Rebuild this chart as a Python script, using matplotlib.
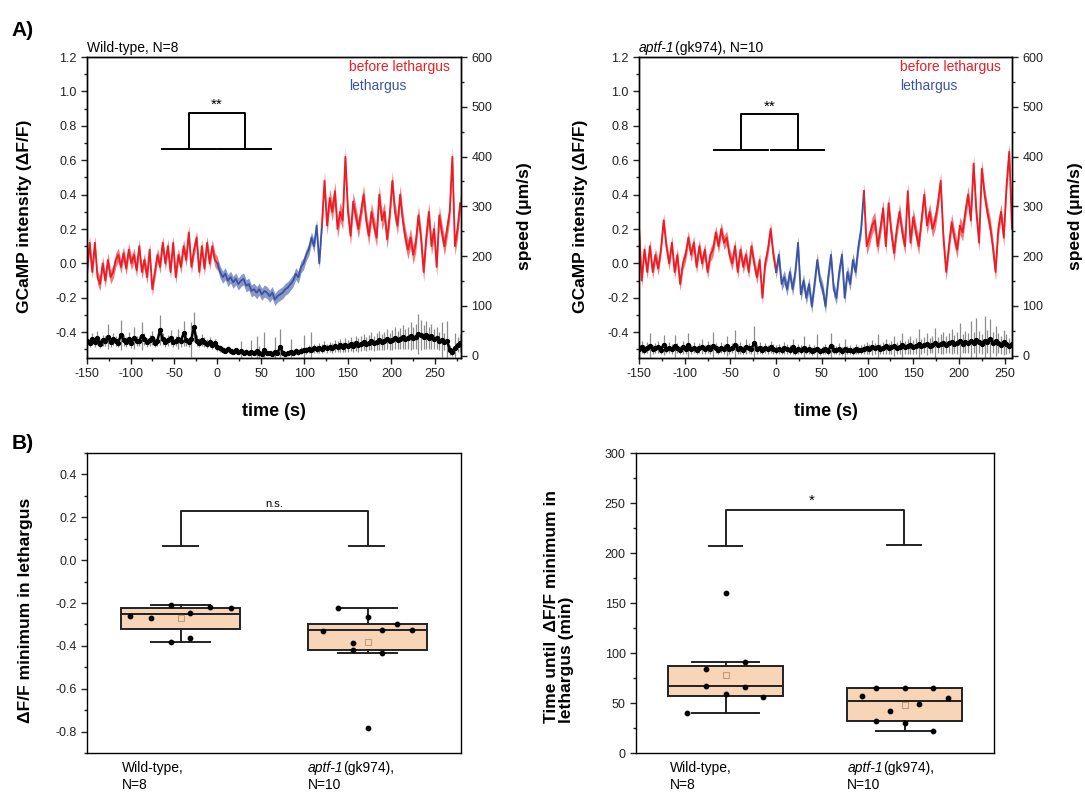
import numpy as np
import matplotlib.pyplot as plt
from matplotlib.ticker import MultipleLocator

plt.rcParams['font.family'] = ['Liberation Sans', 'DejaVu Sans']
plt.rcParams['axes.unicode_minus'] = False

# ---- A) GCaMP traces, sampled every 3 s ----
wt_time = np.arange(-150, 280, 3)
wt_before = [-0.05, 0.12, -0.05, 0.12, -0.08, -0.12, 0.0, -0.1, 0.02, -0.08,
             -0.05, 0.02, 0.05, -0.02, 0.06, -0.03, 0.08, 0.0, 0.05, -0.04,
             0.1, -0.05, 0.02, -0.08, 0.08, -0.15, -0.05, 0.05, -0.02, 0.12,
             0.0, 0.1, -0.05, 0.12, -0.08, 0.05, -0.02, 0.1, 0.02, 0.18,
             -0.02, 0.08, 0.15, -0.05, 0.1, -0.03, 0.12, 0.0, 0.1, 0.02,
             0.0]
wt_lethargus = [-0.05, -0.08, -0.06, -0.1, -0.08, -0.11, -0.09, -0.12, -0.1, -0.09,
                -0.13, -0.12, -0.16, -0.15, -0.17, -0.15, -0.18, -0.16, -0.17, -0.19,
                -0.17, -0.21, -0.19, -0.18, -0.17, -0.15, -0.14, -0.12, -0.1, -0.06,
                -0.08, -0.02, 0.0, 0.05, 0.08, 0.15, 0.1, 0.22, 0.0]
wt_after = [0.22, 0.48, 0.22, 0.38, 0.3, 0.42, 0.2, 0.3, 0.25, 0.62,
            0.3, 0.16, 0.36, 0.28, 0.2, 0.3, 0.4, 0.25, 0.16, 0.3,
            0.22, 0.15, 0.4, 0.25, 0.3, 0.14, 0.28, 0.48, 0.3, 0.22,
            0.4, 0.25, 0.15, 0.08, 0.15, 0.05, 0.12, 0.28, 0.15, -0.05,
            0.15, 0.3, 0.1, 0.2, -0.02, 0.28, 0.18, 0.1, 0.2, 0.3,
            0.62, 0.1, 0.2, 0.35]
wt_leth_end = 120
wt_sem = [0.04, 0.035, 0.055]   # before, lethargus, after

mut_time = np.arange(-150, 259, 3)
mut_before = [0.22, -0.1, 0.08, -0.05, 0.1, -0.05, 0.05, -0.03, 0.08, 0.25,
              0.1, 0.0, 0.12, -0.05, 0.05, -0.12, 0.0, 0.05, 0.15, 0.05,
              0.12, -0.02, 0.1, 0.0, 0.08, -0.05, 0.05, 0.08, 0.18, 0.1,
              0.2, 0.12, 0.15, 0.05, 0.0, 0.1, -0.05, 0.08, -0.02, 0.05,
              -0.05, 0.1, 0.0, -0.08, 0.02, -0.2, 0.0, 0.08, 0.2, 0.05,
              -0.05]
mut_lethargus = [0.05, -0.12, -0.08, -0.15, -0.05, -0.15, -0.05, 0.12, -0.18, -0.1,
                 -0.2, -0.12, -0.25, -0.12, 0.02, -0.1, -0.15, -0.25, -0.08, 0.05,
                 -0.15, -0.2, -0.05, 0.05, -0.2, -0.05, -0.12, 0.02, -0.05, 0.1,
                 0.2]
mut_after = [0.42, 0.1, 0.15, 0.22, 0.25, 0.1, 0.2, 0.32, 0.1, 0.35,
             0.18, 0.06, 0.2, 0.3, 0.18, 0.1, 0.42, 0.12, 0.27, 0.18,
             0.1, 0.25, 0.4, 0.22, 0.3, 0.2, 0.25, 0.35, 0.48, 0.15,
             -0.05, 0.1, 0.24, 0.15, 0.08, 0.22, 0.18, 0.3, 0.4, 0.25,
             0.58, 0.3, 0.12, 0.55, 0.4, 0.3, 0.22, 0.1, -0.05, 0.2,
             0.3, 0.15, 0.45, 0.65, 0.2]
mut_leth_end = 96
mut_sem = [0.04, 0.04, 0.05]

# speed (um/s) and its error, same sampling
wt_speed = [30, 26, 33, 28, 35, 24, 31, 29, 38, 27,
            33, 30, 26, 42, 31, 28, 34, 25, 36, 30,
            29, 40, 33, 27, 31, 35, 26, 30, 52, 33,
            28, 31, 36, 27, 30, 34, 29, 45, 32, 27,
            33, 58, 30, 26, 31, 28, 24, 27, 22, 25,
            18,
            15, 12, 10, 13, 9, 8, 11, 7, 9, 6,
            8, 5, 7, 6, 9, 5, 4, 12, 6, 5,
            4, 7, 5, 18, 6, 4, 5, 8, 6, 9,
            7, 10, 12,
            11, 14, 12, 15, 13, 16, 14, 18, 15, 17,
            16, 19, 18, 21, 17, 22, 20, 23, 19, 25,
            22, 24, 27, 23, 26, 29, 25, 28, 31, 27,
            30, 33, 29, 32, 35, 31, 34, 38, 33, 36,
            40, 35, 38, 44, 42, 37, 41, 36, 39, 33,
            35, 30, 32, 28, 30, 12, 8, 15, 22, 26]
wt_speed_err = [10, 9, 12, 10, 14, 9, 11, 10, 25, 9,
                12, 10, 9, 30, 11, 10, 13, 9, 22, 10,
                10, 28, 12, 9, 11, 14, 9, 10, 30, 12,
                10, 11, 15, 9, 10, 20, 11, 25, 12, 9,
                35, 30, 11, 9, 12, 10, 9, 10, 8, 9,
                8,
                7, 6, 5, 6, 5, 4, 5, 4, 20, 4,
                5, 4, 25, 4, 30, 15, 3, 35, 4, 3,
                3, 30, 4, 35, 5, 3, 4, 25, 4, 6,
                5, 7, 30,
                7, 8, 35, 9, 8, 10, 9, 11, 9, 10,
                10, 12, 11, 13, 10, 14, 12, 14, 11, 15,
                14, 15, 16, 14, 15, 18, 15, 17, 19, 16,
                18, 20, 17, 20, 22, 18, 21, 24, 20, 22,
                28, 22, 25, 40, 30, 24, 28, 22, 25, 20,
                22, 18, 35, 17, 40, 10, 8, 30, 15, 18]
mut_speed = [14, 18, 12, 16, 20, 13, 15, 17, 12, 22,
             14, 16, 13, 19, 15, 12, 17, 14, 21, 13,
             16, 12, 15, 18, 13, 17, 14, 20, 15, 12,
             16, 14, 19, 13, 15, 22, 14, 16, 12, 18,
             15, 13, 25, 14, 16, 12, 15, 13, 17, 14,
             12,
             14, 11, 16, 13, 12, 18, 10, 14, 12, 15,
             11, 13, 10, 12, 14, 9, 11, 13, 10, 20,
             12, 11, 14, 10, 13, 11, 12, 10, 13, 11, 12,
             14, 16, 13, 17, 15, 18, 14, 16, 19, 15,
             17, 20, 16, 18, 21, 17, 19, 22, 18, 20,
             23, 19, 21, 24, 20, 22, 25, 21, 24, 26,
             22, 25, 28, 23, 26, 30, 24, 27, 25, 29,
             26, 31, 27, 24, 30, 28, 33, 26, 29, 25,
             22, 27, 24, 20, 23]
mut_speed_err = [10, 12, 9, 11, 25, 9, 10, 12, 8, 20,
                 9, 11, 10, 22, 10, 8, 13, 10, 25, 9,
                 11, 8, 10, 15, 9, 12, 10, 28, 10, 8,
                 11, 10, 20, 9, 10, 30, 10, 12, 8, 15,
                 10, 9, 35, 10, 11, 8, 10, 9, 12, 10,
                 9,
                 10, 8, 12, 10, 9, 15, 8, 10, 9, 25,
                 8, 10, 8, 9, 30, 7, 8, 10, 8, 25,
                 9, 8, 12, 8, 20, 8, 9, 8, 10, 8, 9,
                 10, 12, 10, 15, 11, 25, 10, 12, 15, 11,
                 13, 20, 12, 14, 25, 13, 15, 18, 14, 16,
                 30, 15, 16, 22, 15, 17, 30, 16, 20, 22,
                 17, 20, 25, 18, 22, 35, 19, 22, 20, 40,
                 21, 45, 22, 20, 50, 23, 40, 21, 30, 20,
                 18, 25, 20, 15, 30]

# ---- B) per-worm values ----
wt_min = [-0.26, -0.27, -0.21, -0.245, -0.22, -0.225, -0.365, -0.38]
wt_min_jitter = [-0.27, -0.16, -0.053, 0.053, 0.16, 0.27, 0.053, -0.053]
mut_min = [-0.225, -0.265, -0.30, -0.325, -0.325, -0.33, -0.385, -0.42, -0.435, -0.785]
mut_min_jitter = [-0.16, 0.0, 0.16, 0.24, 0.08, -0.24, -0.08, -0.08, 0.08, 0.0]
# box stats: whislo, q1, med, q3, whishi, mean
min_stats = [[-0.382, -0.32, -0.25, -0.222, -0.21, -0.27],
             [-0.435, -0.42, -0.325, -0.30, -0.225, -0.38]]

wt_tmin = [84, 67.5, 59, 66, 91, 56, 40, 160]
wt_tmin_jitter = [-0.11, -0.11, 0.0, 0.106, 0.106, 0.212, -0.216, 0.0]
mut_tmin = [57, 65, 65, 65, 55, 42, 49, 32, 30, 22]
mut_tmin_jitter = [-0.24, -0.16, 0.0, 0.16, 0.24, -0.082, 0.08, -0.16, 0.0, 0.16]
tmin_stats = [[40, 57, 67, 87, 91, 78],
              [22, 32, 52, 65, 65, 48]]

RED = '#ec1c24'
BLUE = '#3a53a4'
BOX = '#f9d5b7'
INK = '#222222'

fig = plt.figure(figsize=(10.85, 7.94), dpi=100)


def style_axes(ax, ymaj, ymin):
    ax.yaxis.set_major_locator(MultipleLocator(ymaj))
    ax.yaxis.set_minor_locator(MultipleLocator(ymin))
    ax.tick_params(which='both', direction='out', labelsize=9, colors=INK, width=1)
    ax.tick_params(which='major', length=4)
    ax.tick_params(which='minor', length=2.5)
    for s in ax.spines.values():
        s.set_linewidth(1)


def draw_trace(ax, t, v, t_end, sem, speed, speed_err, xmax):
    v = np.array(v)
    masks = [t <= 0, (t >= 0) & (t <= t_end), t >= t_end]
    colors = [RED, BLUE, RED]
    for m, c, s in zip(masks, colors, sem):
        ax.fill_between(t[m], v[m] - s, v[m] + s, color=c, alpha=0.6, lw=0)
        ax.plot(t[m], v[m], color=c, lw=1.3)
    ax.set_xlim(-150, xmax)
    ax.set_ylim(-0.55, 1.2)
    ax.xaxis.set_major_locator(MultipleLocator(50))
    ax.xaxis.set_minor_locator(MultipleLocator(25))
    style_axes(ax, 0.2, 0.1)
    ax.tick_params(top=False, right=False, which='both')
    ax.yaxis.set_major_formatter(plt.FuncFormatter(lambda y, p: f'{y:.1f}'))
    ax.set_ylabel('GCaMP intensity (\u0394F/F)', fontsize=12.5, fontweight='bold')
    ax.set_xlabel('time (s)', fontsize=13, fontweight='bold')
    ax.xaxis.set_label_coords(0.5, -0.15)

    ax2 = ax.twinx()
    ax2.errorbar(t, speed, yerr=speed_err, fmt='o-', ms=2.8, lw=1.8, color='black',
                 ecolor='#8c8c8c', elinewidth=0.9, capsize=0)
    ax2.set_ylim(-5, 600)
    style_axes(ax2, 100, 50)
    ax2.set_ylabel('speed (\u03bcm/s)', fontsize=12.5, fontweight='bold')

    ax.text(0.7, 0.955, 'before lethargus', color=RED, fontsize=10, transform=ax.transAxes)
    ax.text(0.7, 0.89, 'lethargus', color=BLUE, fontsize=10, transform=ax.transAxes)
    return ax2


# ---------- A) wild type ----------
axA1 = fig.add_axes([0.0802, 0.5491, 0.3447, 0.3791])
ax2 = draw_trace(axA1, wt_time, wt_before + wt_lethargus + wt_after, wt_leth_end, wt_sem,
                 wt_speed, wt_speed_err, 280)
axA1.yaxis.set_label_coords(-0.147, 0.47)
ax2.yaxis.set_label_coords(1.15, 0.47)
axA1.text(0.0, 1.015, 'Wild-type, N=8', fontsize=10, transform=axA1.transAxes)
axA1.plot([-64, -2], [0.667, 0.667], color='black', lw=1.4)
axA1.plot([1, 62], [0.667, 0.667], color='black', lw=1.4)
axA1.plot([-33, -33, 32, 32], [0.667, 0.875, 0.875, 0.667], color='black', lw=1.4)
axA1.text(-1, 0.88, '**', ha='center', va='bottom', fontsize=11)

# ---------- A) aptf-1 ----------
axA2 = fig.add_axes([0.5889, 0.5491, 0.3438, 0.3791])
ax2b = draw_trace(axA2, mut_time, mut_before + mut_lethargus + mut_after, mut_leth_end, mut_sem,
                  mut_speed, mut_speed_err, 258)
axA2.yaxis.set_label_coords(-0.137, 0.47)
ax2b.yaxis.set_label_coords(1.15, 0.47)
t1 = axA2.text(0.0, 1.015, 'aptf-1', fontsize=10, style='italic', transform=axA2.transAxes)
axA2.annotate('(gk974), N=10', xy=(1, 0), xycoords=t1, fontsize=10, va='bottom')
axA2.plot([-68, -9], [0.66, 0.66], color='black', lw=1.4)
axA2.plot([-6, 52], [0.66, 0.66], color='black', lw=1.4)
axA2.plot([-38, -38, 24, 24], [0.66, 0.867, 0.867, 0.66], color='black', lw=1.4)
axA2.text(-7, 0.872, '**', ha='center', va='bottom', fontsize=11)


def draw_box(ax, stats, groups, jitters, capw):
    bxp = []
    for s in stats:
        bxp.append(dict(whislo=s[0], q1=s[1], med=s[2], q3=s[3], whishi=s[4], mean=s[5],
                        fliers=[]))
    ax.bxp(bxp, positions=[1, 2], widths=0.64, capwidths=capw, showmeans=True,
           patch_artist=True,
           boxprops=dict(facecolor=BOX, edgecolor=INK, lw=1.4),
           medianprops=dict(color=INK, lw=1.4),
           whiskerprops=dict(color=INK, lw=1.4),
           capprops=dict(color=INK, lw=1.4),
           meanprops=dict(marker='s', markersize=4, markerfacecolor='none',
                          markeredgecolor='#c49a78', markeredgewidth=0.8))
    for i, (vals, jit) in enumerate(zip(groups, jitters)):
        ax.scatter(np.array(jit) + i + 1, vals, s=10, color='black', zorder=5)
    ax.set_xlim(0.5, 2.5)
    ax.set_xticks([])


def cat_labels(ax):
    ax.text(0.094, -0.025, 'Wild-type,', transform=ax.transAxes, fontsize=10, va='top')
    ax.text(0.094, -0.083, 'N=8', transform=ax.transAxes, fontsize=10, va='top')
    t = ax.text(0.59, -0.025, 'aptf-1', transform=ax.transAxes, fontsize=10,
                va='top', style='italic')
    ax.annotate('(gk974),', xy=(1, 1), xycoords=t, fontsize=10, va='top')
    ax.text(0.59, -0.083, 'N=10', transform=ax.transAxes, fontsize=10, va='top')


# ---------- B) minimum dF/F ----------
axB1 = fig.add_axes([0.0802, 0.0516, 0.3447, 0.3778])
draw_box(axB1, min_stats, [wt_min, mut_min], [wt_min_jitter, mut_min_jitter], [0.32, 0.32])
axB1.set_ylim(-0.9, 0.5)
style_axes(axB1, 0.2, 0.1)
axB1.yaxis.set_major_formatter(plt.FuncFormatter(lambda y, p: f'{y:.1f}'))
axB1.set_ylabel('\u0394F/F minimum in lethargus', fontsize=12.5, fontweight='bold')
axB1.yaxis.set_label_coords(-0.145, 0.477)
axB1.plot([0.905, 1.095], [0.065, 0.065], color=INK, lw=1.4)
axB1.plot([1.9, 2.09], [0.067, 0.067], color=INK, lw=1.4)
axB1.plot([1.0, 1.0, 2.0, 2.0], [0.065, 0.23, 0.23, 0.067], color=INK, lw=1.4)
axB1.text(1.5, 0.24, 'n.s.', ha='center', va='bottom', fontsize=8)
cat_labels(axB1)

# ---------- B) time until minimum ----------
axB2 = fig.add_axes([0.5862, 0.0516, 0.33, 0.3778])
draw_box(axB2, tmin_stats, [wt_tmin, mut_tmin], [wt_tmin_jitter, mut_tmin_jitter], [0.37, 0.32])
axB2.set_ylim(0, 300)
style_axes(axB2, 50, 25)
axB2.set_ylabel('Time until  \u0394F/F minimum in\nlethargus (min)', fontsize=12.5,
                fontweight='bold', linespacing=1.0, multialignment='left')
axB2.yaxis.set_label_coords(-0.173, 0.487)
axB2.plot([0.905, 1.09], [207, 207], color=INK, lw=1.4)
axB2.plot([1.9, 2.09], [208, 208], color=INK, lw=1.4)
axB2.plot([1.0, 1.0, 1.995, 1.995], [207, 243, 243, 208], color=INK, lw=1.4)
axB2.text(1.48, 245, '*', ha='center', va='bottom', fontsize=11)
cat_labels(axB2)

fig.text(0.011, 0.955, 'A)', fontsize=15, fontweight='bold')
fig.text(0.011, 0.435, 'B)', fontsize=15, fontweight='bold')

fig.savefig('out.png', dpi=100)
